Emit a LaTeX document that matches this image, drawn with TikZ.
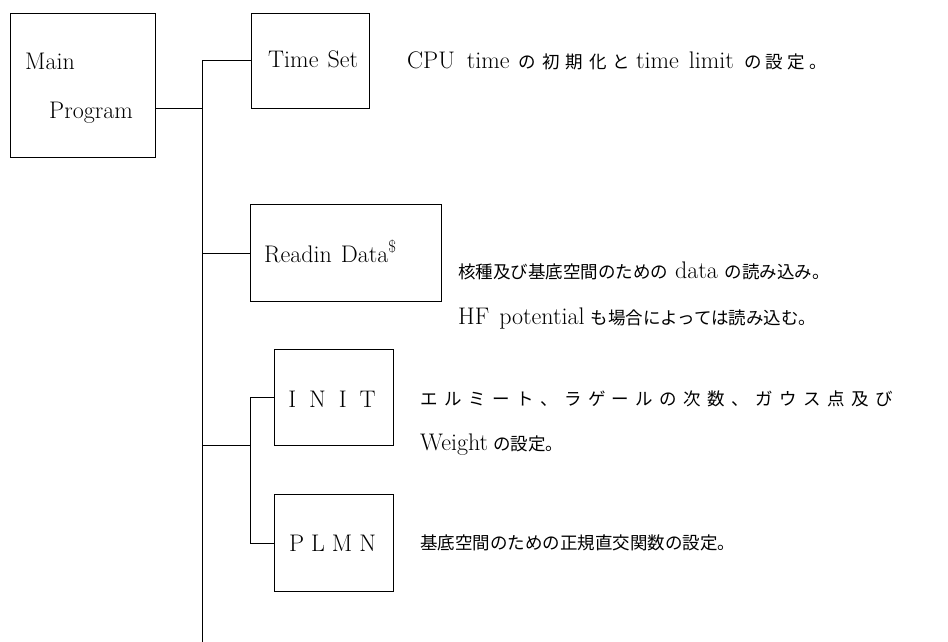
\documentclass[tikz,border=0pt]{standalone}
\usepackage{fontspec}
\newfontfamily\cjk{Noto Sans CJK JP}
\newcommand\jp[1]{{\cjk\fontsize{17.5}{20}\selectfont #1}}
\tikzset{
  box/.style={draw, line width=0.9pt, rectangle, inner sep=0pt, anchor=north west},
  wire/.style={draw, line width=0.9pt},
  txt/.style={inner sep=0pt, anchor=base west, font=\fontsize{24}{28}\selectfont}
}
\begin{document}
\begin{tikzpicture}[x=1pt,y=-1pt]
\useasboundingbox[fill=white] (0,0) rectangle (948,642);
% boxes
\node[box, minimum width=145pt, minimum height=144pt] (main) at (10,13) {};
\node[box, minimum width=118pt, minimum height=95pt] (ts) at (251,13) {};
\node[box, minimum width=191pt, minimum height=97pt] (rd) at (250,204) {};
\node[box, minimum width=119pt, minimum height=96pt] (init) at (274,349) {};
\node[box, minimum width=119pt, minimum height=97pt] (plmn) at (274,494) {};
% box texts
\node[txt] (mainA) at (25,70) {Main};
\node[txt] (mainB) at (49,118) {Program};
\node[txt] (tsT) at (268,68) {Time\hspace{9pt}Set};
\node[txt] (rdT) at (264,262) {Readin\hspace{9pt}Data\textsuperscript{\$}};
\node[txt, anchor=base] (initT) at (332,407) {I\kern13pt N\kern13pt I\kern13pt T};
\node[txt, anchor=base] (plmnT) at (332.5,551) {P\kern7pt L\kern7pt M\kern7pt N};
% descriptions
\node[txt] (d1) at (407,69) {CPU\hspace{12pt}time\hspace{9pt}\jp{の\kern6pt 初\kern6pt 期\kern6pt 化\kern6pt と}\hspace{6pt}time\hspace{10pt}limit\hspace{10pt}\jp{の\kern4.5pt 設\kern4.5pt 定\kern4.5pt 。}};
\node[txt] (d2) at (458,278) {\jp{核種及び基底空間のための}\hspace{7pt}data\hspace{7pt}\jp{の読み込み。}};
\node[txt] (d3) at (458,324) {HF\hspace{10pt}potential\hspace{6pt}\jp{も場合によっては読み込む。}};
\node[txt] (d4) at (420,405) {\makebox[473pt][s]{\jp{エ}\hfill\jp{ル}\hfill\jp{ミ}\hfill\jp{ー}\hfill\jp{ト}\hfill\jp{、}\hfill\jp{ラ}\hfill\jp{ゲ}\hfill\jp{ー}\hfill\jp{ル}\hfill\jp{の}\hfill\jp{次}\hfill\jp{数}\hfill\jp{、}\hfill\jp{ガ}\hfill\jp{ウ}\hfill\jp{ス}\hfill\jp{点}\hfill\jp{及}\hfill\jp{び}}};
\node[txt] (d5) at (420,450) {Weight\hspace{5pt}\jp{の設定。}};
\node[txt] (d6) at (420,549) {\jp{基底空間のための正規直交関数の設定。}};
% connectors
\coordinate (bot) at (202,642);
\coordinate (sub) at (250,445);
\draw[wire] (ts.west) -| (bot);
\draw[wire] ([yshift=-23pt]main.east) -- ([yshift=-23pt]main.east -| bot);
\draw[wire] (rd.west) -- (rd.west -| bot);
\draw[wire] (sub -| bot) -- (sub);
\draw[wire] (init.west) -| (sub);
\draw[wire] (plmn.west) -| (sub);
\end{tikzpicture}
\end{document}
